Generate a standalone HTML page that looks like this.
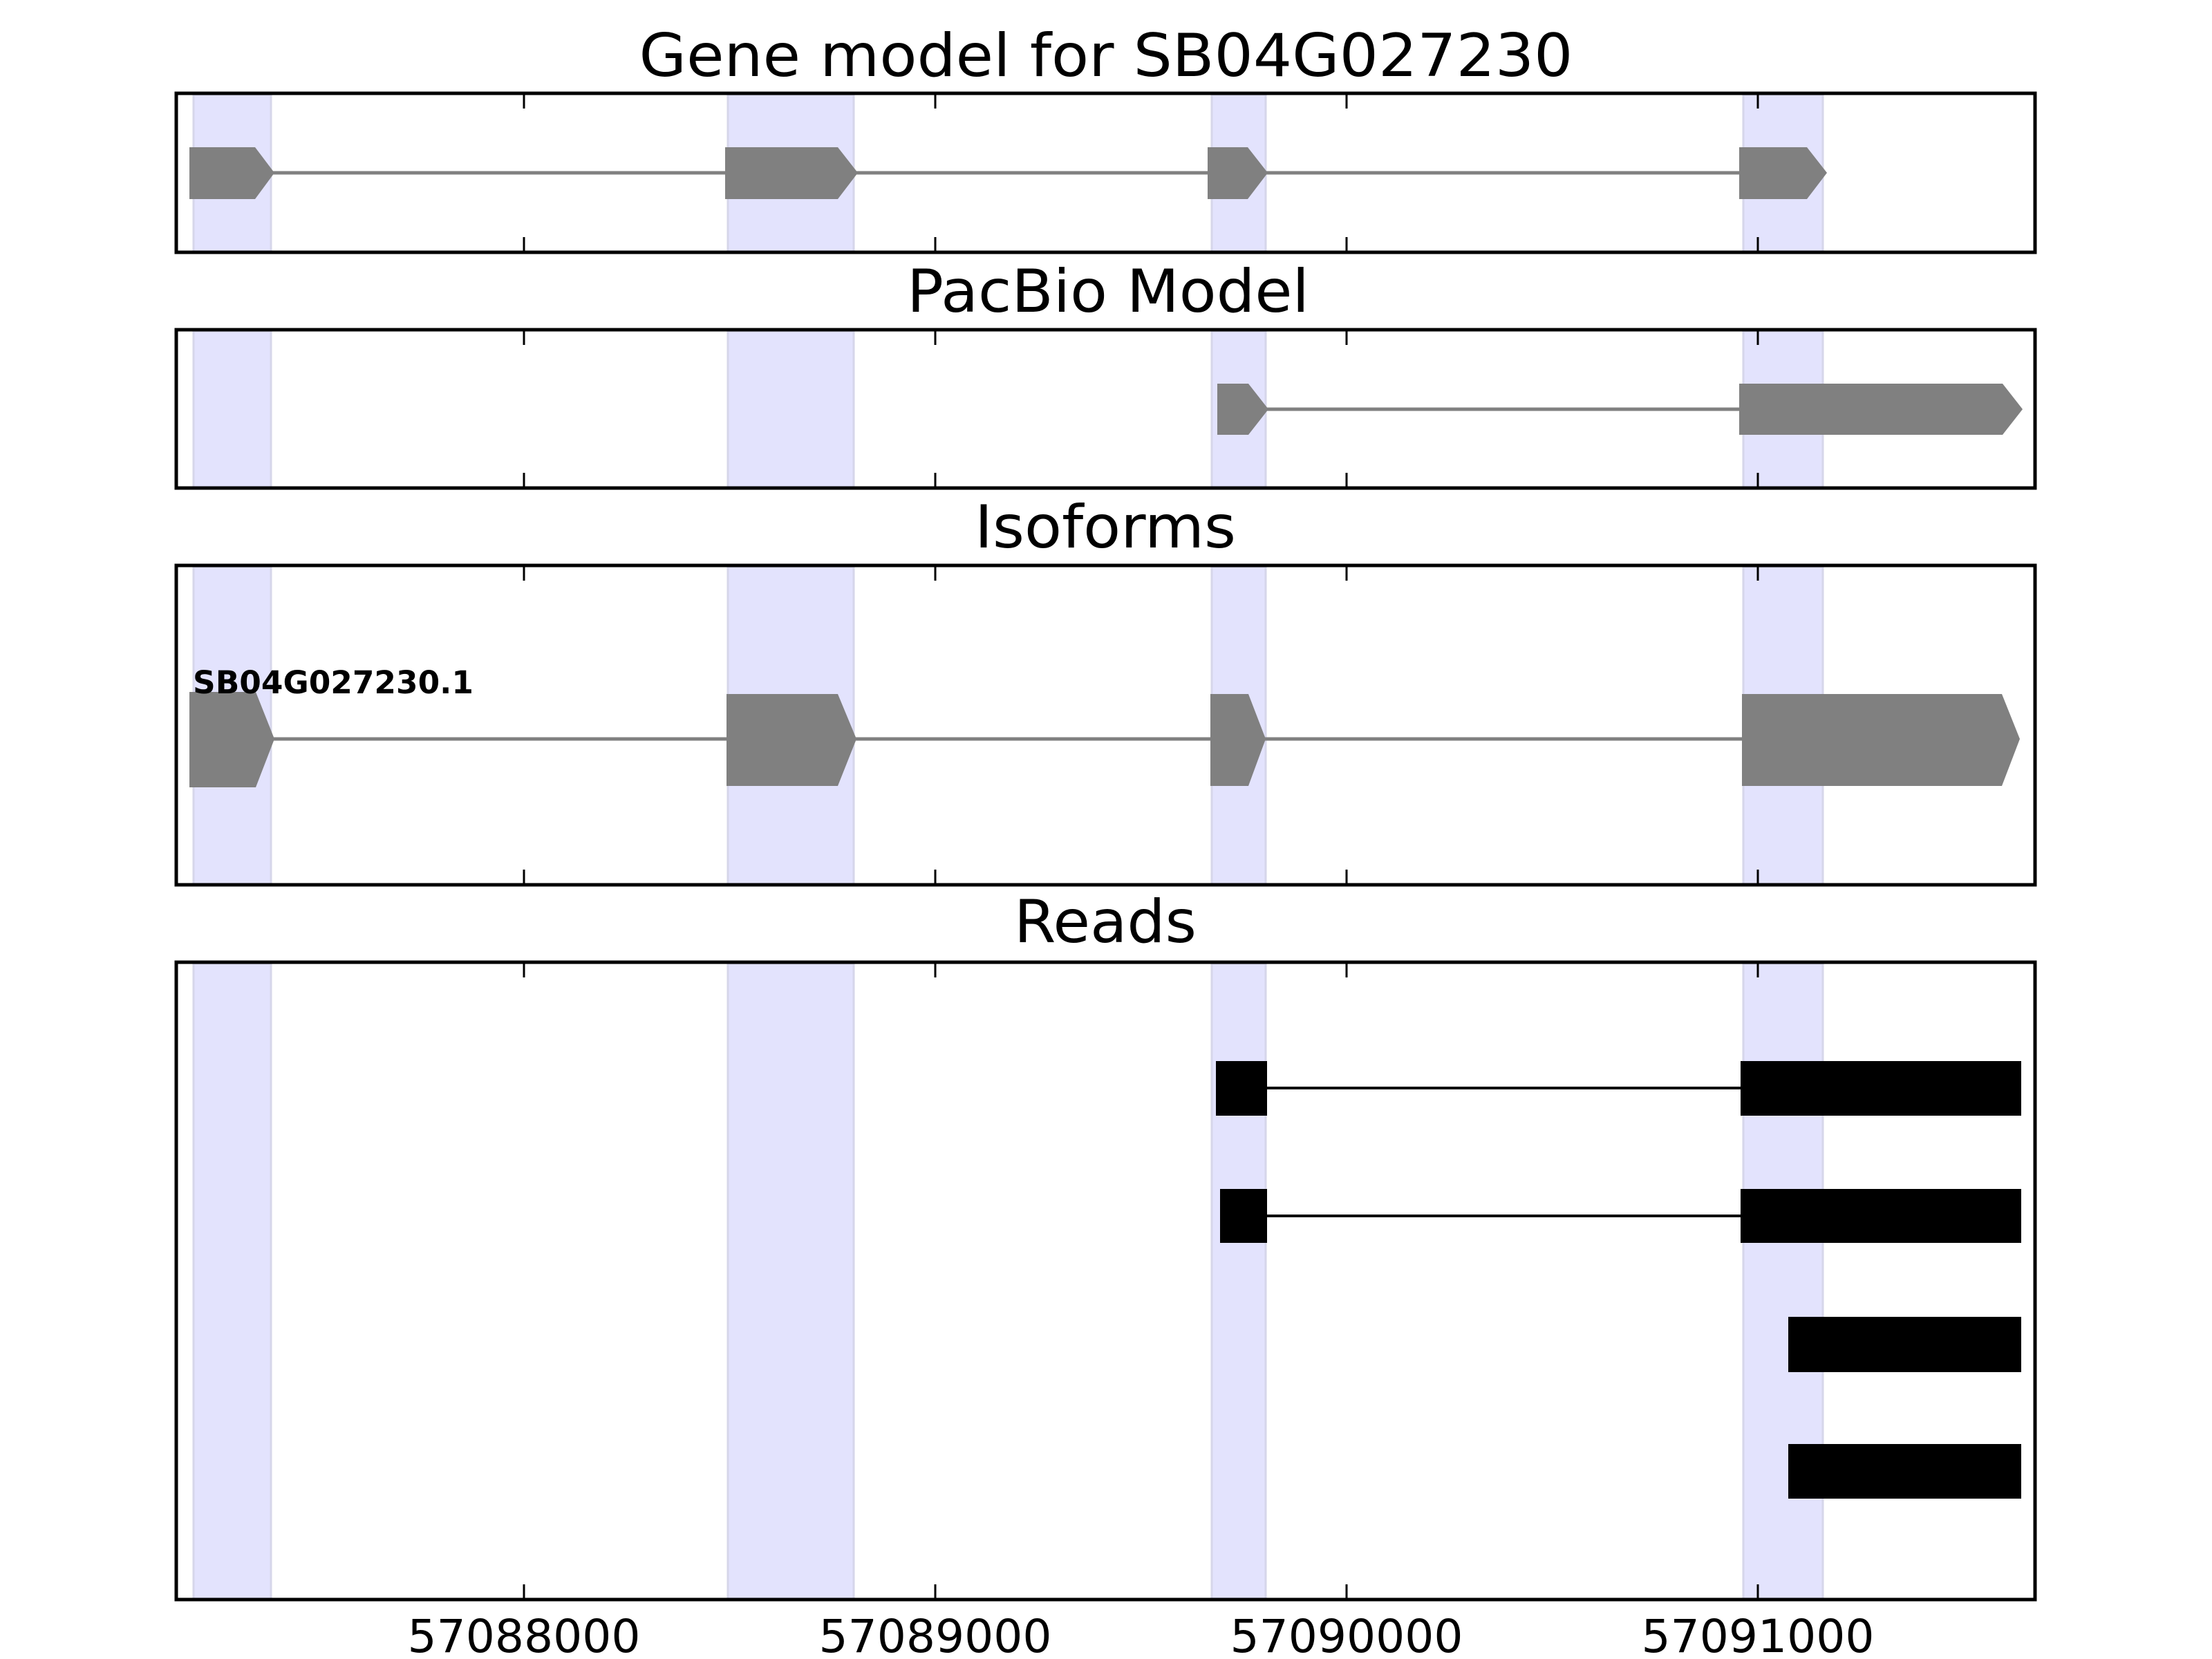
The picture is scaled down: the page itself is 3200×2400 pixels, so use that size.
<!DOCTYPE html>
<html><head><meta charset="utf-8"><style>html,body{margin:0;padding:0;background:#fff}svg{display:block}</style></head>
<body>
<svg width="3200" height="2400" viewBox="0 0 3200 2400" xmlns="http://www.w3.org/2000/svg" font-family="DejaVu Sans, Liberation Sans, sans-serif">
<rect width="3200" height="2400" fill="#fff"/>
<!-- Axes 1 -->
<g>
 <g fill="#e3e3fd" stroke="#d6d6ea" stroke-width="3">
  <rect x="280" y="137" width="112" height="228"/><rect x="1053" y="137" width="182" height="228"/><rect x="1753" y="137" width="78" height="228"/><rect x="2522" y="137" width="115" height="228"/>
 </g>
 <line x1="370" y1="250" x2="2520" y2="250" stroke="#808080" stroke-width="5"/>
 <g fill="#808080">
  <polygon points="274,213 369,213 397,250 369,288 274,288"/>
  <polygon points="1049,213 1212,213 1241,250 1212,288 1049,288"/>
  <polygon points="1747,213 1805,213 1834,250 1805,288 1747,288"/>
  <polygon points="2516,213 2614,213 2643,250 2614,288 2516,288"/>
 </g>
 <rect x="255" y="135" width="2689" height="230" fill="none" stroke="#000" stroke-width="5"/>
 <g stroke="#000" stroke-width="3"><path d="M758 137v20M1353 137v20M1948 137v20M2543 137v20M758 363v-20M1353 363v-20M1948 363v-20M2543 363v-20"/></g>
 <text x="1600" y="110" font-size="86" text-anchor="middle" textLength="1351" lengthAdjust="spacingAndGlyphs">Gene model for SB04G027230</text>
</g>
<!-- Axes 2 -->
<g>
 <g fill="#e3e3fd" stroke="#d6d6ea" stroke-width="3">
  <rect x="280" y="479" width="112" height="227"/><rect x="1053" y="479" width="182" height="227"/><rect x="1753" y="479" width="78" height="227"/><rect x="2522" y="479" width="115" height="227"/>
 </g>
 <line x1="1806" y1="592" x2="2520" y2="592" stroke="#808080" stroke-width="5"/>
 <g fill="#808080">
  <polygon points="1761,555 1806,555 1835,592 1806,629 1761,629"/>
  <polygon points="2516,555 2897,555 2926,592 2897,629 2516,629"/>
 </g>
 <rect x="255" y="477" width="2689" height="229" fill="none" stroke="#000" stroke-width="5"/>
 <g stroke="#000" stroke-width="3"><path d="M758 479v20M1353 479v20M1948 479v20M2543 479v20M758 704v-20M1353 704v-20M1948 704v-20M2543 704v-20"/></g>
 <text x="1603" y="451" font-size="86" text-anchor="middle" textLength="582" lengthAdjust="spacingAndGlyphs">PacBio Model</text>
</g>
<!-- Axes 3 -->
<g>
 <g fill="#e3e3fd" stroke="#d6d6ea" stroke-width="3">
  <rect x="280" y="820" width="112" height="460"/><rect x="1053" y="820" width="182" height="460"/><rect x="1753" y="820" width="78" height="460"/><rect x="2522" y="820" width="115" height="460"/>
 </g>
 <line x1="370" y1="1069" x2="2522" y2="1069" stroke="#808080" stroke-width="5"/>
 <g fill="#808080">
  <polygon points="274,1001 370,1001 397,1069 370,1139 274,1139"/>
  <polygon points="1051,1004 1212,1004 1239,1069 1212,1137 1051,1137"/>
  <polygon points="1751,1004 1806,1004 1831,1069 1806,1137 1751,1137"/>
  <polygon points="2520,1004 2896,1004 2922,1069 2896,1137 2520,1137"/>
 </g>
 <text x="279" y="1003" font-size="45" font-weight="bold" textLength="406" lengthAdjust="spacingAndGlyphs">SB04G027230.1</text>
 <rect x="255" y="818" width="2689" height="462" fill="none" stroke="#000" stroke-width="5"/>
 <g stroke="#000" stroke-width="3"><path d="M758 820v20M1353 820v20M1948 820v20M2543 820v20M758 1278v-20M1353 1278v-20M1948 1278v-20M2543 1278v-20"/></g>
 <text x="1599" y="792" font-size="86" text-anchor="middle" textLength="378" lengthAdjust="spacingAndGlyphs">Isoforms</text>
</g>
<!-- Axes 4 -->
<g>
 <g fill="#e3e3fd" stroke="#d6d6ea" stroke-width="3">
  <rect x="280" y="1394" width="112" height="919"/><rect x="1053" y="1394" width="182" height="919"/><rect x="1753" y="1394" width="78" height="919"/><rect x="2522" y="1394" width="115" height="919"/>
 </g>
 <g stroke="#000" stroke-width="4">
  <line x1="1833" y1="1574" x2="2518" y2="1574"/>
  <line x1="1833" y1="1759" x2="2518" y2="1759"/>
 </g>
 <g fill="#000">
  <rect x="1759" y="1535" width="74" height="79"/><rect x="2518" y="1535" width="406" height="79"/>
  <rect x="1765" y="1720" width="68" height="78"/><rect x="2518" y="1720" width="406" height="78"/>
  <rect x="2587" y="1905" width="337" height="80"/>
  <rect x="2587" y="2089" width="337" height="79"/>
 </g>
 <rect x="255" y="1392" width="2689" height="922" fill="none" stroke="#000" stroke-width="5"/>
 <g stroke="#000" stroke-width="3"><path d="M758 1394v20M1353 1394v20M1948 1394v20M2543 1394v20M758 2312v-20M1353 2312v-20M1948 2312v-20M2543 2312v-20"/></g>
 <text x="1599" y="1363" font-size="86" text-anchor="middle" textLength="264" lengthAdjust="spacingAndGlyphs">Reads</text>
</g>
<g font-size="66" text-anchor="middle">
 <text x="758" y="2390" textLength="337" lengthAdjust="spacingAndGlyphs">57088000</text>
 <text x="1353" y="2390" textLength="337" lengthAdjust="spacingAndGlyphs">57089000</text>
 <text x="1948" y="2390" textLength="337" lengthAdjust="spacingAndGlyphs">57090000</text>
 <text x="2543" y="2390" textLength="337" lengthAdjust="spacingAndGlyphs">57091000</text>
</g>
</svg>
</body></html>
